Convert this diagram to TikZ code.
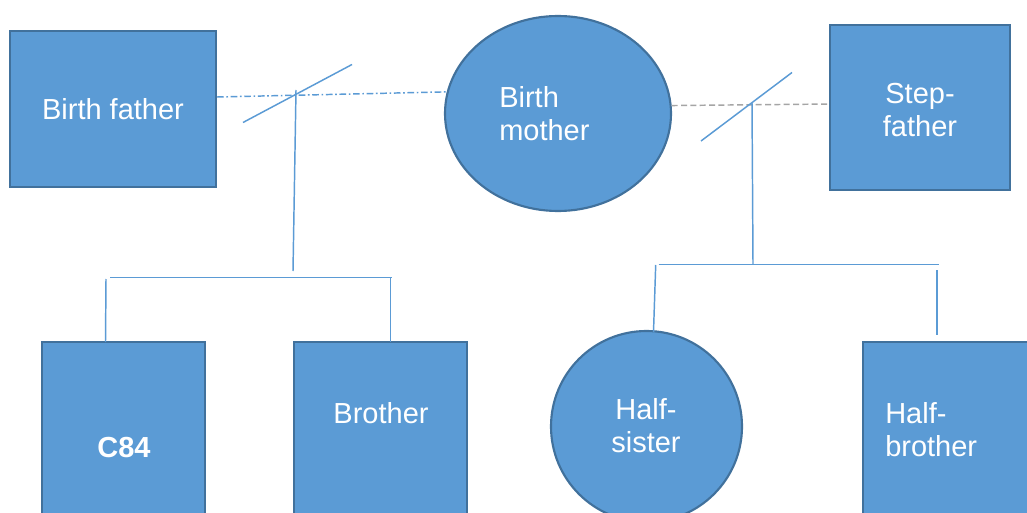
\documentclass[tikz,border=0pt]{standalone}
\usepackage{fontspec}
\setmainfont{Liberation Sans}
\usetikzlibrary{shapes.geometric}
\definecolor{fillblue}{HTML}{5B9BD5}
\definecolor{edgeblue}{HTML}{41719C}
\definecolor{lineblue}{HTML}{5B9BD5}
\definecolor{dashgray}{HTML}{A5A5A5}
\begin{document}
\begin{tikzpicture}[x=0.75pt,y=-0.75pt,
  box/.style={draw=edgeblue,fill=fillblue,line width=1.6pt,inner sep=0pt},
  lbl/.style={text=white,font=\fontsize{21.75pt}{24.75pt}\selectfont,inner sep=0pt},
  link/.style={draw=lineblue,line width=1.1pt},
  dashdotline/.style={draw=lineblue,line width=1.1pt,dash pattern=on 5pt off 2pt on 1.2pt off 2pt},
  grayline/.style={draw=dashgray,line width=1.1pt,dash pattern=on 4.5pt off 2.5pt}]
\fill[white] (0,0) rectangle (1027,513);
\useasboundingbox (0,0) rectangle (1027,513);

% parents
\node[box,rectangle,minimum width=154.5pt,minimum height=117pt,lbl] (bf) at (113,109) {Birth father};
\node[box,ellipse,minimum width=169.5pt,minimum height=146.25pt] (bm) at (558,113.5) {};
\node[lbl,align=left,anchor=west] (bmt) at (499,114) {Birth\\mother};
\node[box,rectangle,minimum width=135pt,minimum height=123.75pt] (sf) at (920,107.5) {};
\node[lbl,align=center] (sft) at (920,110.5) {Step-\\father};

% children
\node[box,rectangle,minimum width=122.25pt,minimum height=150pt] (c84) at (123.5,442) {};
\node[lbl,font=\fontsize{21.75pt}{24.75pt}\selectfont\bfseries] (c84t) at (124,448) {C84};
\node[box,rectangle,minimum width=129.75pt,minimum height=150pt] (br) at (380.5,442) {};
\node[lbl] (brt) at (381,413) {Brother};
\node[box,circle,minimum size=143.25pt] (hs) at (646.5,426.5) {};
\node[lbl,align=center] (hst) at (646,425.5) {Half-\\sister};
\node[box,rectangle,minimum width=132.75pt,minimum height=150pt] (hb) at (951.5,442) {};
\node[lbl,align=left,anchor=west] (hbt) at (885,430) {Half-\\brother};

% left family
\coordinate (d1a) at (243,122.5);
\coordinate (d1b) at (352,64.5);
\coordinate (v1a) at (296,90);
\coordinate (v1b) at (293,271);
\coordinate (h1a) at (110,277.5);
\coordinate (h1b) at (391.5,277.5);
\coordinate (c1a) at (106,279);
\coordinate (c1b) at (105.5,342);
\coordinate (c2a) at (390.5,277.5);
\coordinate (c2b) at (390.5,342);
\draw[dashdotline] ([yshift=9pt]bf.east) -- (bm.169);
\draw[link] (d1a) -- (d1b);
\draw[link] (v1a) -- (v1b);
\draw[link] (h1a) -- (h1b);
\draw[link] (c1a) -- (c1b);
\draw[link] (c2a) -- (c2b);

% right family
\coordinate (d2a) at (701,141);
\coordinate (d2b) at (792,72.5);
\coordinate (v2a) at (752,103);
\coordinate (v2b) at (753,264);
\coordinate (h2a) at (658.5,264.5);
\coordinate (h2b) at (939,264.5);
\coordinate (c3a) at (655.7,265);
\coordinate (c3b) at (653.5,332);
\coordinate (c4a) at (937,270);
\coordinate (c4b) at (937,335);
\draw[grayline] (bm.4) -- ([yshift=2.6pt]sf.west);
\draw[link] (d2a) -- (d2b);
\draw[link] (v2a) -- (v2b);
\draw[link] (h2a) -- (h2b);
\draw[link] (c3a) -- (c3b);
\draw[link] (c4a) -- (c4b);
\end{tikzpicture}
\end{document}
